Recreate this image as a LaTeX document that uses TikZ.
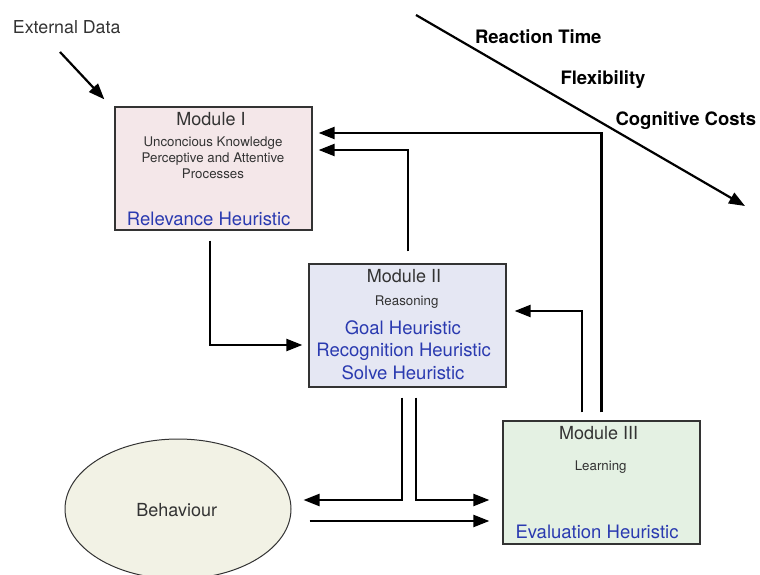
\documentclass[tikz,border=0pt]{standalone}
\usepackage{fontspec}
\setmainfont{TeX Gyre Heros}
\usetikzlibrary{arrows.meta,calc,shapes.geometric}
\definecolor{txt}{HTML}{333333}
\definecolor{blu}{HTML}{2A3AB0}
\definecolor{fillA}{HTML}{F4E7E9}
\definecolor{fillB}{HTML}{E5E7F3}
\definecolor{fillC}{HTML}{E4F1E3}
\definecolor{fillD}{HTML}{F2F2E5}
\tikzset{
  modbox/.style={draw=txt, line width=1.3pt, minimum width=197pt, minimum height=123pt, inner sep=0pt},
  lbl/.style={anchor=base, text=txt, inner sep=0pt},
  ttl/.style={lbl, font=\fontsize{18}{21}\selectfont},
  sml/.style={lbl, font=\fontsize{13.3}{15}\selectfont},
  heu/.style={lbl, text=blu, font=\fontsize{18.5}{21}\selectfont},
  bld/.style={lbl, text=black, font=\fontsize{18.5}{21}\selectfont\bfseries},
  arr/.style={line width=2.2pt, -{Triangle[length=16pt,width=12pt]}},
}
\begin{document}
\begin{tikzpicture}[x=1pt,y=-1pt]
\useasboundingbox (0,0) rectangle (760,575);

% boxes
\node[modbox, fill=fillA] (m1) at (213.5,168.5) {};
\node[modbox, fill=fillB] (m2) at (407.5,325.5) {};
\node[modbox, fill=fillC] (m3) at (601.5,482.5) {};
\node[ellipse, draw=txt, line width=1pt, fill=fillD, minimum width=226pt, minimum height=140pt, inner sep=0pt] (beh) at (178,509) {};

% texts Module I
\node[ttl] (t1a) at (211,125.7) {Module I};
\node[sml] (t1b) at (213,146.7) {Unconcious Knowledge};
\node[sml] (t1c) at (213,162.7) {Perceptive and Attentive};
\node[sml] (t1d) at (213,178.3) {Processes};
\node[heu] (t1e) at (208.7,225.7) {Relevance Heuristic};

% texts Module II
\node[ttl] (t2a) at (404,282.3) {Module II};
\node[sml] (t2b) at (406.7,305.7) {Reasoning};
\node[heu] (t2c) at (402.8,334) {Goal Heuristic};
\node[heu] (t2d) at (403.7,356.7) {Recognition Heuristic};
\node[heu] (t2e) at (403,379.3) {Solve Heuristic};

% texts Module III
\node[ttl] (t3a) at (598.7,439.3) {Module III};
\node[sml] (t3b) at (600.7,470) {Learning};
\node[heu] (t3c) at (597,538.7) {Evaluation Heuristic};

\node[ttl] (tb) at (176.8,516) {Behaviour};
\node[lbl, font=\fontsize{17.8}{20}\selectfont] (ext) at (66.7,33.3) {External Data};

% bold labels
\node[bld] (rt) at (538.3,44) {Reaction Time};
\node[bld] (fx) at (603,84.3) {Flexibility};
\node[bld] (cc) at (685.8,126) {Cognitive Costs};

% diagonal arrow
\coordinate (d1) at (416,15);
\coordinate (d2) at (745,206);
\draw[arr] (d1) -- (d2);

% external data arrow
\coordinate (e1) at (60,52);
\draw[arr] (e1) -- ($(m1.north west)+(-10,-7)$);

% Module I -> Module II
\draw[arr, shorten >=6pt] ($(m1.south)+(-3.5,10)$) |- ($(m2.west)+(0,19.5)$);
% Module II -> Module I
\draw[arr, shorten >=6pt] ($(m2.north)+(0.5,-12)$) |- ($(m1.east)+(0,-18.5)$);
% Module III -> Module I
\draw[arr, shorten >=6pt] ($(m3.north)+(0,-8)$) |- ($(m1.east)+(0,-35.5)$);
% Module III -> Module II
\draw[arr, shorten >=8pt] ($(m3.north)+(-19.5,-8)$) |- ($(m2.east)+(0,-14.5)$);
% Module II -> Behaviour
\draw[arr, shorten >=12pt] ($(m2.south)+(-5.5,10)$) |- ($(beh.east)+(0,-9)$);
% Module II -> Module III
\draw[arr, shorten >=13pt] ($(m2.south)+(8.5,10)$) |- ($(m3.west)+(0,17.5)$);
% Behaviour -> Module III
\draw[arr, shorten >=13pt] ($(beh.east)+(18,12)$) -- ($(m3.west)+(0,38.5)$);
\end{tikzpicture}
\end{document}
